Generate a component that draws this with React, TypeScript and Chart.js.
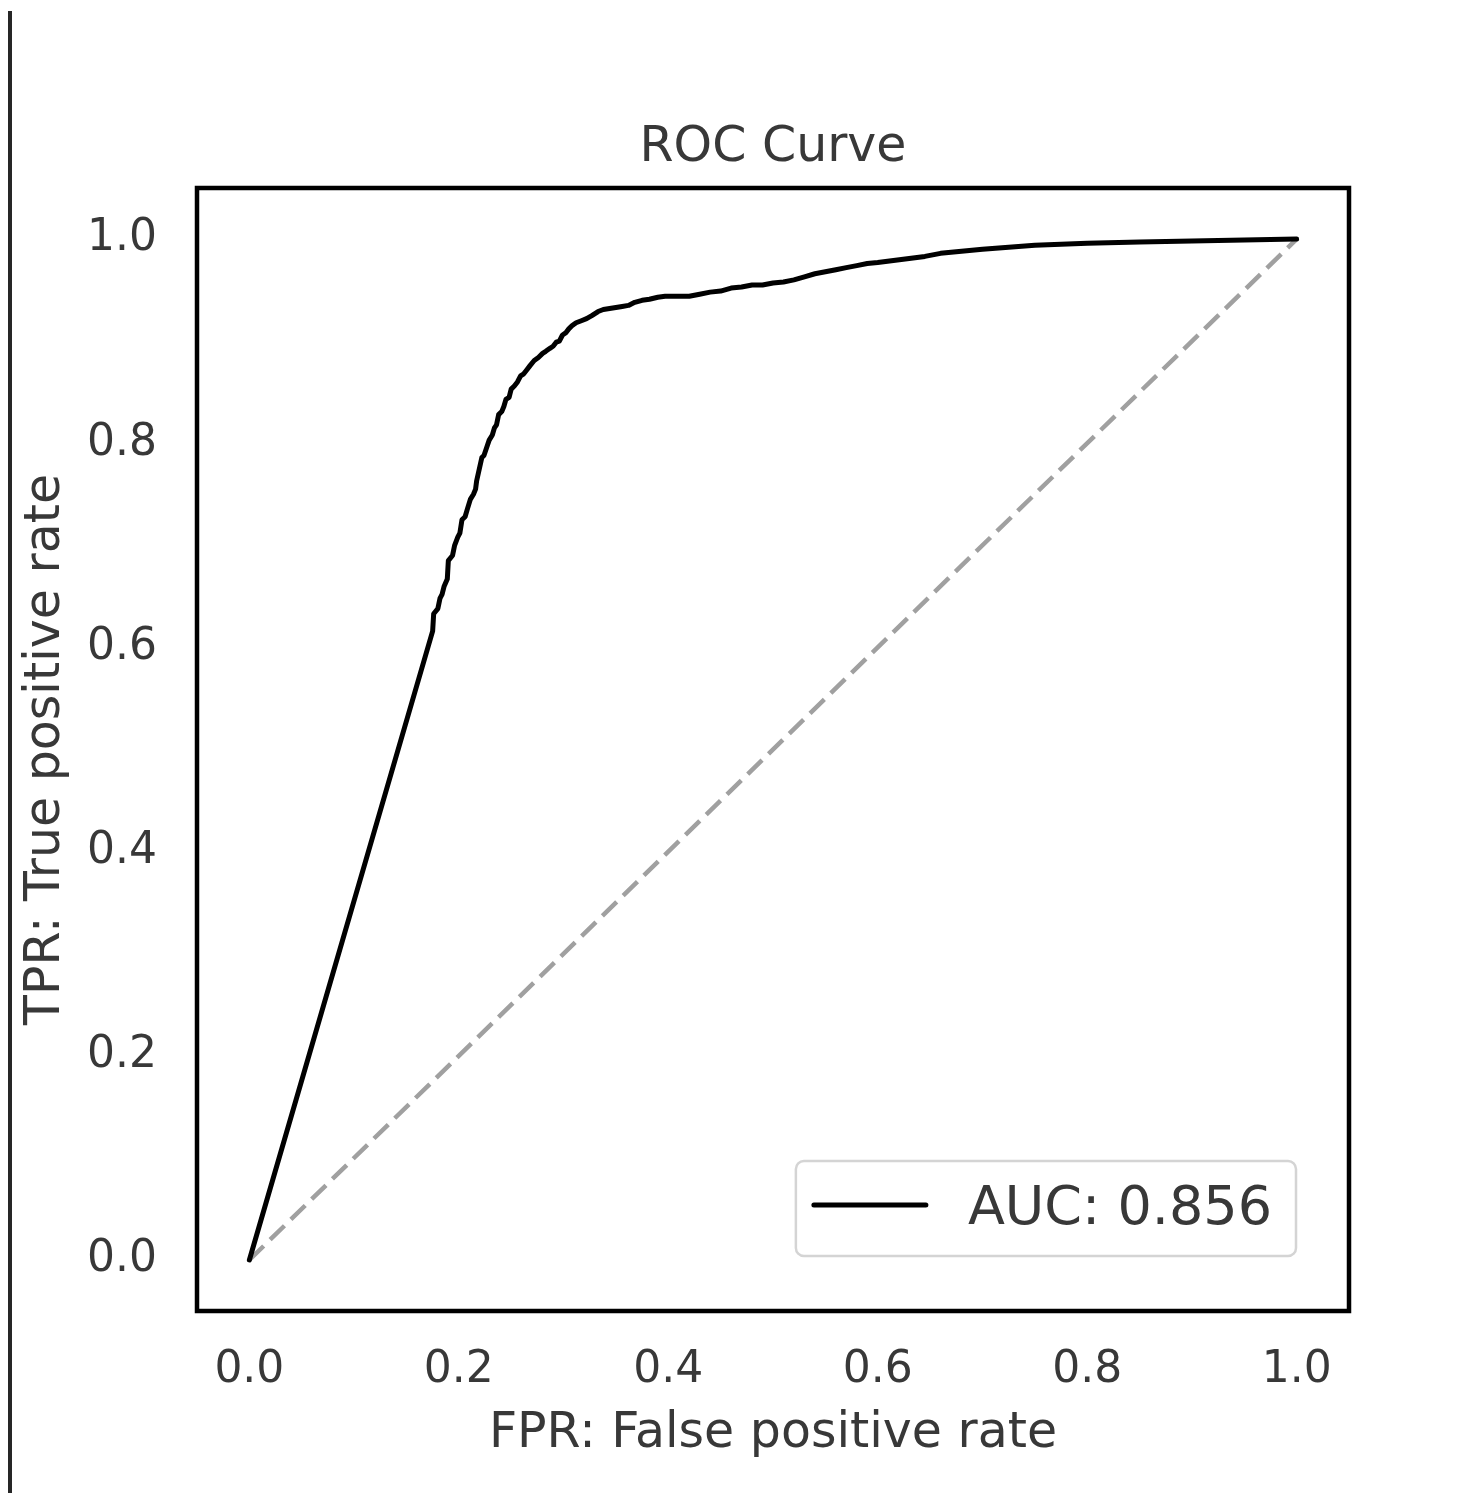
import React, { useEffect, useRef } from "react";
import { Chart, registerables } from "chart.js";

Chart.register(...registerables);

const fprValues = [
  0, 0.175, 0.176, 0.18, 0.182, 0.184, 0.186, 0.189, 0.19, 0.194, 0.196, 0.199, 0.201, 0.203,
  0.206, 0.208, 0.211, 0.214, 0.216, 0.217, 0.222, 0.224, 0.227, 0.229, 0.232, 0.234, 0.236,
  0.238, 0.241, 0.243, 0.245, 0.248, 0.25, 0.253, 0.256, 0.259, 0.262, 0.265, 0.268, 0.272,
  0.276, 0.28, 0.283, 0.287, 0.29, 0.293, 0.296, 0.299, 0.302, 0.305, 0.308, 0.312, 0.317,
  0.322, 0.327, 0.333, 0.338, 0.344, 0.35, 0.356, 0.362, 0.368, 0.375, 0.382, 0.39, 0.397,
  0.405, 0.42, 0.43, 0.44, 0.45, 0.46, 0.47, 0.48, 0.49, 0.5, 0.51, 0.52, 0.53, 0.54, 0.55,
  0.56, 0.57, 0.58, 0.59, 0.6, 0.615, 0.63, 0.645, 0.66, 0.68, 0.7, 0.725, 0.75, 0.8, 0.85,
  0.9, 0.95, 1.0,
];
const tprValues = [
  0, 0.616, 0.633, 0.638, 0.648, 0.652, 0.66, 0.667, 0.685, 0.69, 0.7, 0.708, 0.712, 0.725,
  0.728, 0.735, 0.745, 0.75, 0.755, 0.763, 0.786, 0.788, 0.797, 0.803, 0.808, 0.815, 0.818,
  0.828, 0.831, 0.836, 0.843, 0.845, 0.853, 0.856, 0.86, 0.866, 0.868, 0.872, 0.876, 0.881,
  0.884, 0.888, 0.89, 0.893, 0.895, 0.899, 0.9, 0.906, 0.908, 0.912, 0.915, 0.918, 0.92,
  0.922, 0.925, 0.929, 0.931, 0.932, 0.933, 0.934, 0.935, 0.938, 0.94, 0.941, 0.943, 0.944,
  0.944, 0.944, 0.946, 0.948, 0.949, 0.952, 0.953, 0.955, 0.955, 0.957, 0.958, 0.96, 0.963,
  0.966, 0.968, 0.97, 0.972, 0.974, 0.976, 0.977, 0.979, 0.981, 0.983, 0.986, 0.988, 0.99,
  0.992, 0.994, 0.996, 0.997, 0.998, 0.999, 1.0,
];
const chanceX = [0, 1];
const chanceY = [0, 1];
const tickValues = [0, 0.2, 0.4, 0.6, 0.8, 1.0];
const aucLabel = "AUC: 0.856";
const titleText = "ROC Curve";
const xTitle = "FPR: False positive rate";
const yTitle = "TPR: True positive rate";

const FONT = "'DejaVu Sans', 'Liberation Sans', sans-serif";
const TEXT = "#383838";

const framePlugin = {
  id: "frame",
  afterDraw(chart: any) {
    const { ctx, chartArea: a } = chart;
    ctx.save();
    ctx.strokeStyle = "#000";
    ctx.lineWidth = 4.5;
    ctx.strokeRect(a.left, a.top, a.right - a.left, a.bottom - a.top);

    // legend box (inside, lower right)
    const ds = chart.data.datasets[0];
    ctx.font = `54px ${FONT}`;
    const tw = ctx.measureText(ds.label).width;
    const padL = 18, lineLen = 112, gap = 42, padR = 24;
    const w = padL + lineLen + gap + tw + padR;
    const h = 95;
    const right = a.right - 53;
    const bottom = a.bottom - 55;
    const left = right - w;
    const top = bottom - h;
    ctx.beginPath();
    ctx.roundRect(left, top, w, h, 8);
    ctx.fillStyle = "rgba(255,255,255,0.85)";
    ctx.fill();
    ctx.strokeStyle = "#d4d4d4";
    ctx.lineWidth = 2.5;
    ctx.stroke();
    ctx.beginPath();
    ctx.strokeStyle = ds.borderColor;
    ctx.lineWidth = 5;
    ctx.lineCap = "round";
    const ly = top + 44;
    ctx.moveTo(left + padL, ly);
    ctx.lineTo(left + padL + lineLen, ly);
    ctx.stroke();
    ctx.fillStyle = TEXT;
    ctx.textBaseline = "alphabetic";
    ctx.textAlign = "left";
    ctx.fillText(ds.label, left + padL + lineLen + gap, top + 63);
    ctx.restore();
  },
};

export default function App() {
  const ref = useRef<HTMLCanvasElement | null>(null);
  useEffect(() => {
    if (!ref.current) return;
    const chart = new Chart(ref.current, {
      type: "scatter",
      data: {
        datasets: [
          {
            label: aucLabel,
            data: fprValues.map((x, i) => ({ x, y: tprValues[i] })),
            showLine: true,
            borderColor: "#000000",
            borderWidth: 5,
            pointRadius: 0,
            tension: 0,
            borderCapStyle: "round",
            borderJoinStyle: "round",
            order: 0,
          },
          {
            label: "chance",
            data: chanceX.map((x, i) => ({ x, y: chanceY[i] })),
            showLine: true,
            borderColor: "#a0a0a0",
            borderWidth: 4.5,
            borderDash: [20, 9],
            pointRadius: 0,
            order: 1,
          },
        ],
      },
      options: {
        animation: false,
        responsive: false,
        devicePixelRatio: 1,
        layout: { padding: { left: 0, right: 135, top: 0, bottom: 0 } },
        plugins: {
          legend: { display: false },
          tooltip: { enabled: false },
          title: {
            display: true,
            fullSize: false,
            align: "center",
            text: titleText,
            color: TEXT,
            font: { family: FONT, size: 49, weight: "normal", lineHeight: 1.2 },
            padding: { top: 118.6, bottom: 10.6 },
          },
        },
        scales: {
          x: {
            type: "linear",
            min: -0.05,
            max: 1.05,
            afterBuildTicks: (s: any) => {
              s.ticks = tickValues.map((v) => ({ value: v }));
            },
            afterFit: (s: any) => {
              s.height = 182;
            },
            ticks: {
              color: TEXT,
              padding: 33,
              font: { family: FONT, size: 44, lineHeight: 1.2 },
              callback: (v: any) => Number(v).toFixed(1),
              maxRotation: 0,
              autoSkip: false,
            },
            grid: { display: false, drawTicks: false },
            border: { display: false },
            title: {
              display: true,
              text: xTitle,
              color: TEXT,
              font: { family: FONT, size: 49, lineHeight: 1.2 },
              padding: { top: 0, bottom: 29.4 },
            },
          },
          y: {
            type: "linear",
            min: -0.05,
            max: 1.05,
            afterBuildTicks: (s: any) => {
              s.ticks = tickValues.map((v) => ({ value: v }));
            },
            afterFit: (s: any) => {
              s.width = 197;
            },
            ticks: {
              color: TEXT,
              padding: 40,
              font: { family: FONT, size: 44, lineHeight: 1.2 },
              callback: (v: any) => Number(v).toFixed(1),
              autoSkip: false,
            },
            grid: { display: false, drawTicks: false },
            border: { display: false },
            title: {
              display: true,
              text: yTitle,
              color: TEXT,
              font: { family: FONT, size: 49, lineHeight: 1.2 },
              padding: { top: 16.4, bottom: 0 },
            },
          },
        },
      },
      plugins: [framePlugin],
    } as any);
    return () => chart.destroy();
  }, []);

  return (
    <div style={{ position: "absolute", left: 0, top: 0, width: 1484, height: 1493, background: "#fff" }}>
      <canvas ref={ref} width={1484} height={1493} style={{ display: "block", width: 1484, height: 1493 }} />
      <div
        style={{
          position: "absolute",
          left: 8,
          top: 11,
          width: 4,
          height: 1482,
          background: "#262626",
        }}
      />
    </div>
  );
}
